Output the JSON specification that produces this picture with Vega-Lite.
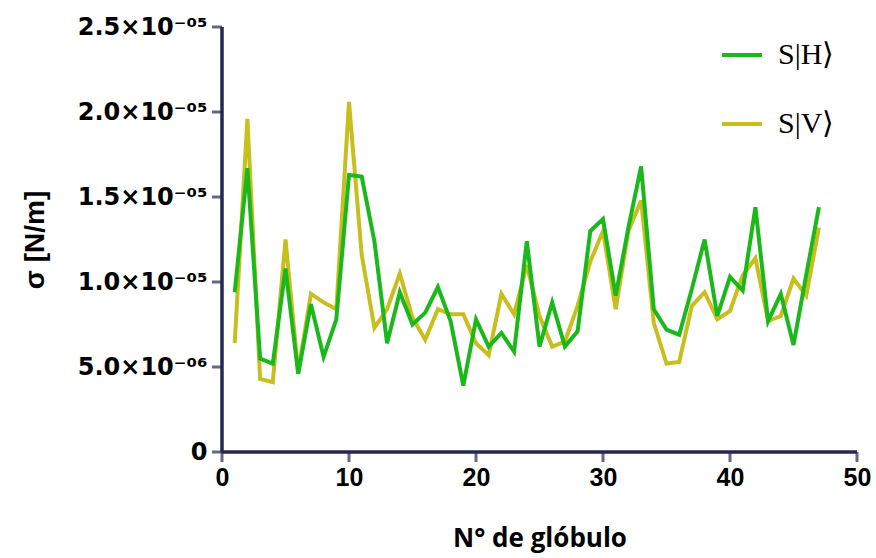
{
  "$schema": "https://vega.github.io/schema/vega-lite/v6.json",
  "width": 635,
  "height": 425,
  "autosize": {"type": "none"},
  "padding": {"left": 222, "top": 27, "right": 19, "bottom": 106},
  "background": "white",
  "config": {"view": {"stroke": null}},
  "datasets": {
    "d": [
      {"n":1,"s":"S|H⟩","sigma":9.4e-6},{"n":2,"s":"S|H⟩","sigma":16.7e-6},{"n":3,"s":"S|H⟩","sigma":5.5e-6},{"n":4,"s":"S|H⟩","sigma":5.2e-6},{"n":5,"s":"S|H⟩","sigma":10.8e-6},
      {"n":6,"s":"S|H⟩","sigma":4.6e-6},{"n":7,"s":"S|H⟩","sigma":8.7e-6},{"n":8,"s":"S|H⟩","sigma":5.6e-6},{"n":9,"s":"S|H⟩","sigma":7.8e-6},{"n":10,"s":"S|H⟩","sigma":16.3e-6},
      {"n":11,"s":"S|H⟩","sigma":16.2e-6},{"n":12,"s":"S|H⟩","sigma":12.4e-6},{"n":13,"s":"S|H⟩","sigma":6.4e-6},{"n":14,"s":"S|H⟩","sigma":9.4e-6},{"n":15,"s":"S|H⟩","sigma":7.5e-6},
      {"n":16,"s":"S|H⟩","sigma":8.2e-6},{"n":17,"s":"S|H⟩","sigma":9.7e-6},{"n":18,"s":"S|H⟩","sigma":7.7e-6},{"n":19,"s":"S|H⟩","sigma":3.9e-6},{"n":20,"s":"S|H⟩","sigma":7.8e-6},
      {"n":21,"s":"S|H⟩","sigma":6.2e-6},{"n":22,"s":"S|H⟩","sigma":7.0e-6},{"n":23,"s":"S|H⟩","sigma":5.9e-6},{"n":24,"s":"S|H⟩","sigma":12.4e-6},{"n":25,"s":"S|H⟩","sigma":6.2e-6},
      {"n":26,"s":"S|H⟩","sigma":8.8e-6},{"n":27,"s":"S|H⟩","sigma":6.2e-6},{"n":28,"s":"S|H⟩","sigma":7.1e-6},{"n":29,"s":"S|H⟩","sigma":13.0e-6},{"n":30,"s":"S|H⟩","sigma":13.7e-6},
      {"n":31,"s":"S|H⟩","sigma":9.2e-6},{"n":32,"s":"S|H⟩","sigma":13.2e-6},{"n":33,"s":"S|H⟩","sigma":16.8e-6},{"n":34,"s":"S|H⟩","sigma":8.4e-6},{"n":35,"s":"S|H⟩","sigma":7.2e-6},
      {"n":36,"s":"S|H⟩","sigma":6.9e-6},{"n":37,"s":"S|H⟩","sigma":9.6e-6},{"n":38,"s":"S|H⟩","sigma":12.5e-6},{"n":39,"s":"S|H⟩","sigma":8.0e-6},{"n":40,"s":"S|H⟩","sigma":10.3e-6},
      {"n":41,"s":"S|H⟩","sigma":9.5e-6},{"n":42,"s":"S|H⟩","sigma":14.4e-6},{"n":43,"s":"S|H⟩","sigma":7.7e-6},{"n":44,"s":"S|H⟩","sigma":9.3e-6},{"n":45,"s":"S|H⟩","sigma":6.3e-6},
      {"n":46,"s":"S|H⟩","sigma":10.4e-6},{"n":47,"s":"S|H⟩","sigma":14.4e-6},
      {"n":1,"s":"S|V⟩","sigma":6.4e-6},{"n":2,"s":"S|V⟩","sigma":19.6e-6},{"n":3,"s":"S|V⟩","sigma":4.3e-6},{"n":4,"s":"S|V⟩","sigma":4.1e-6},{"n":5,"s":"S|V⟩","sigma":12.5e-6},
      {"n":6,"s":"S|V⟩","sigma":4.7e-6},{"n":7,"s":"S|V⟩","sigma":9.3e-6},{"n":8,"s":"S|V⟩","sigma":8.8e-6},{"n":9,"s":"S|V⟩","sigma":8.4e-6},{"n":10,"s":"S|V⟩","sigma":20.6e-6},
      {"n":11,"s":"S|V⟩","sigma":11.6e-6},{"n":12,"s":"S|V⟩","sigma":7.3e-6},{"n":13,"s":"S|V⟩","sigma":8.4e-6},{"n":14,"s":"S|V⟩","sigma":10.5e-6},{"n":15,"s":"S|V⟩","sigma":7.9e-6},
      {"n":16,"s":"S|V⟩","sigma":6.6e-6},{"n":17,"s":"S|V⟩","sigma":8.4e-6},{"n":18,"s":"S|V⟩","sigma":8.1e-6},{"n":19,"s":"S|V⟩","sigma":8.1e-6},{"n":20,"s":"S|V⟩","sigma":6.4e-6},
      {"n":21,"s":"S|V⟩","sigma":5.7e-6},{"n":22,"s":"S|V⟩","sigma":9.3e-6},{"n":23,"s":"S|V⟩","sigma":8.1e-6},{"n":24,"s":"S|V⟩","sigma":11.0e-6},{"n":25,"s":"S|V⟩","sigma":8.0e-6},
      {"n":26,"s":"S|V⟩","sigma":6.2e-6},{"n":27,"s":"S|V⟩","sigma":6.5e-6},{"n":28,"s":"S|V⟩","sigma":8.6e-6},{"n":29,"s":"S|V⟩","sigma":11.2e-6},{"n":30,"s":"S|V⟩","sigma":13.0e-6},
      {"n":31,"s":"S|V⟩","sigma":8.4e-6},{"n":32,"s":"S|V⟩","sigma":13.0e-6},{"n":33,"s":"S|V⟩","sigma":14.8e-6},{"n":34,"s":"S|V⟩","sigma":7.6e-6},{"n":35,"s":"S|V⟩","sigma":5.2e-6},
      {"n":36,"s":"S|V⟩","sigma":5.3e-6},{"n":37,"s":"S|V⟩","sigma":8.6e-6},{"n":38,"s":"S|V⟩","sigma":9.4e-6},{"n":39,"s":"S|V⟩","sigma":7.8e-6},{"n":40,"s":"S|V⟩","sigma":8.3e-6},
      {"n":41,"s":"S|V⟩","sigma":10.4e-6},{"n":42,"s":"S|V⟩","sigma":11.4e-6},{"n":43,"s":"S|V⟩","sigma":7.7e-6},{"n":44,"s":"S|V⟩","sigma":8.0e-6},{"n":45,"s":"S|V⟩","sigma":10.2e-6},
      {"n":46,"s":"S|V⟩","sigma":9.2e-6},{"n":47,"s":"S|V⟩","sigma":13.2e-6}
    ],
    "axislines": [
      {"ax": "x", "n": 0, "sigma": 0}, {"ax": "x", "n": 50, "sigma": 0},
      {"ax": "y", "n": 0, "sigma": 0}, {"ax": "y", "n": 0, "sigma": 2.5e-5}
    ],
    "xticks": [{"n": 0, "sigma": 0}, {"n": 10, "sigma": 0}, {"n": 20, "sigma": 0}, {"n": 30, "sigma": 0}, {"n": 40, "sigma": 0}, {"n": 50, "sigma": 0}],
    "yticks": [{"n": 0, "sigma": 0}, {"n": 0, "sigma": 5e-6}, {"n": 0, "sigma": 1e-5}, {"n": 0, "sigma": 1.5e-5}, {"n": 0, "sigma": 2e-5}, {"n": 0, "sigma": 2.5e-5}]
  },
  "encoding": {
    "x": {
      "field": "n", "type": "quantitative",
      "scale": {"domain": [0, 50], "nice": false},
      "axis": {
        "values": [0, 10, 20, 30, 40, 50],
        "grid": false, "domain": false, "ticks": false,
        "labelFont": "Liberation Sans", "labelFontWeight": "bold", "labelFontSize": 25, "labelColor": "black",
        "labelPadding": 13, "labelFlush": false,
        "title": "N° de glóbulo",
        "titleFont": "Open Sans", "titleFontWeight": "bold", "titleFontSize": 26, "titleColor": "black",
        "titlePadding": 35
      }
    },
    "y": {
      "field": "sigma", "type": "quantitative",
      "scale": {"domain": [0, 2.5e-5], "nice": false},
      "axis": {
        "values": [0, 5e-6, 1e-5, 1.5e-5, 2e-5, 2.5e-5],
        "labelExpr": "datum.value == 0 ? '0' : (datum.value < 0.0000099 ? format(datum.value*1e6, '.1f') + '×10⁻⁰⁶' : format(datum.value*1e5, '.1f') + '×10⁻⁰⁵')",
        "grid": false, "domain": false, "ticks": false,
        "labelFont": "DejaVu Sans", "labelFontWeight": "bold", "labelFontSize": 24, "labelColor": "black",
        "labelPadding": 15, "labelFlush": false,
        "title": "σ  [N/m]",
        "titleFont": "Liberation Sans", "titleFontWeight": "bold", "titleFontSize": 28, "titleColor": "black",
        "titlePadding": 28
      }
    }
  },
  "layer": [
    {
      "data": {"name": "axislines"},
      "mark": {"type": "line", "color": "#262650", "strokeWidth": 3.5},
      "encoding": {"detail": {"field": "ax", "type": "nominal"}}
    },
    {
      "data": {"name": "xticks"},
      "mark": {"type": "tick", "orient": "vertical", "color": "#262650", "size": 10, "thickness": 3, "yOffset": 5},
      "encoding": {}
    },
    {
      "data": {"name": "yticks"},
      "mark": {"type": "tick", "orient": "horizontal", "color": "#262650", "size": 10, "thickness": 3, "xOffset": -5},
      "encoding": {}
    },
    {
      "data": {"name": "d"},
      "transform": [{"filter": "datum.s == 'S|V⟩'"}],
      "mark": {"type": "line", "strokeWidth": 4},
      "encoding": {
        "color": {
          "field": "s", "type": "nominal",
          "scale": {"domain": ["S|H⟩", "S|V⟩"], "range": ["#1BB81B", "#C8BE1E"]},
          "legend": {
            "title": null,
            "orient": "none", "legendX": 498, "legendY": 6,
            "symbolType": "stroke", "symbolSize": 1600, "symbolStrokeWidth": 4,
            "labelFont": "Liberation Serif", "labelFontSize": 30, "labelColor": "black",
            "labelOffset": 14, "rowPadding": 32, "labelLimit": 200
          }
        }
      }
    },
    {
      "data": {"name": "d"},
      "transform": [{"filter": "datum.s == 'S|H⟩'"}],
      "mark": {"type": "line", "strokeWidth": 4},
      "encoding": {"color": {"field": "s", "type": "nominal"}}
    }
  ]
}
